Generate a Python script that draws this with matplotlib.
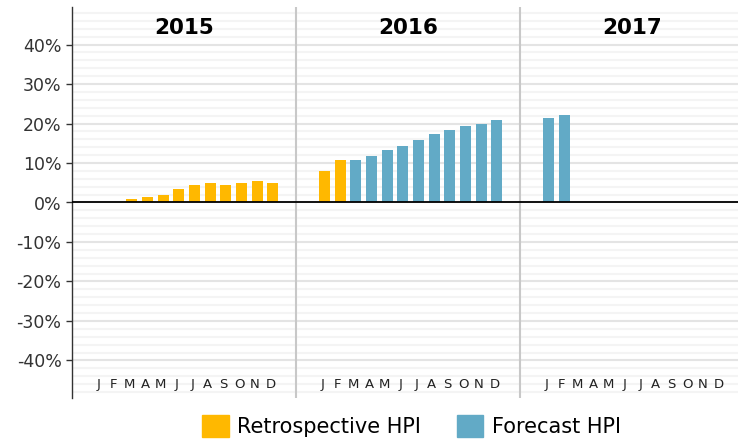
import matplotlib.pyplot as plt
from matplotlib.patches import Patch
import numpy as np

years = ["2015", "2016", "2017"]
month_letters = ["J", "F", "M", "A", "M", "J", "J", "A", "S", "O", "N", "D"]

# (year index, month index, value %) for each bar
retro_year = [0, 0, 0, 0, 0, 0, 0, 0, 0, 0, 1, 1]
retro_month = [2, 3, 4, 5, 6, 7, 8, 9, 10, 11, 0, 1]
retro_vals = [0.9, 1.4, 2.0, 3.4, 4.4, 4.9, 4.4, 4.9, 5.4, 4.9, 8.0, 10.8]

fc_year = [1, 1, 1, 1, 1, 1, 1, 1, 1, 1, 2, 2]
fc_month = [2, 3, 4, 5, 6, 7, 8, 9, 10, 11, 0, 1]
fc_vals = [10.8, 11.8, 13.3, 14.3, 15.8, 17.3, 18.4, 19.4, 19.9, 20.9, 21.4, 22.2]

orange = "#FFB800"
blue = "#62AAC6"

panel_w = 14.3   # width of one year panel, in months
pad_left = 1.82  # space before January

def xpos(yi, mi):
    return np.array(yi) * panel_w + np.array(mi)

fig = plt.figure(figsize=(7.38, 4.44), dpi=100)
ax = fig.add_axes([72 / 738, 1 - 398 / 444, 672 / 738, 391 / 444])

ax.set_xlim(-pad_left, 3 * panel_w - pad_left)
ax.set_ylim(-49.5, 49.5)

# grid: strong every 10%, faint every 2%
for v in np.arange(-48, 50, 2):
    if v % 10 == 0:
        ax.axhline(v, color="#e4e4e4", lw=1.5, zorder=0)
    else:
        ax.axhline(v, color="#f4f4f4", lw=1.5, zorder=0)

ax.bar(xpos(retro_year, retro_month), retro_vals, width=0.7, color=orange, zorder=2)
ax.bar(xpos(fc_year, fc_month), fc_vals, width=0.7, color=blue, zorder=2)

ax.axhline(0, color="black", lw=1.3, zorder=3)

# year separators
for k in [1, 2]:
    ax.axvline(k * panel_w - pad_left, color="#c8c8c8", lw=1.5, zorder=1)

for k, yr in enumerate(years):
    cx = k * panel_w - pad_left + panel_w / 2
    ax.text(cx, 44.2, yr, ha="center", va="center", fontsize=15.5,
            fontweight="bold", color="black")
    for m, letter in enumerate(month_letters):
        ax.text(k * panel_w + m - 0.15, -46.2, letter, ha="center", va="center",
                fontsize=9.5, color="#222222")

ax.set_yticks(np.arange(-40, 41, 10))
ax.set_yticklabels([f"{v}%" for v in range(-40, 41, 10)])
ax.tick_params(axis="y", length=4.5, width=1, color="#333333", pad=3,
               labelsize=12.5, labelcolor="#333333")
ax.set_xticks([])
for s in ["top", "right", "bottom"]:
    ax.spines[s].set_visible(False)
ax.spines["left"].set_color("#333333")
ax.spines["left"].set_linewidth(1)

handles = [Patch(color=orange, label="Retrospective HPI"),
           Patch(color=blue, label="Forecast HPI")]
fig.legend(handles=handles, loc="center", bbox_to_anchor=(0.5576, 0.04),
           ncol=2, frameon=False, fontsize=15, handlelength=1.25,
           handleheight=1.25, handletextpad=0.4, columnspacing=1.75,
           borderpad=0, borderaxespad=0)

fig.savefig("out.png", dpi=100)
